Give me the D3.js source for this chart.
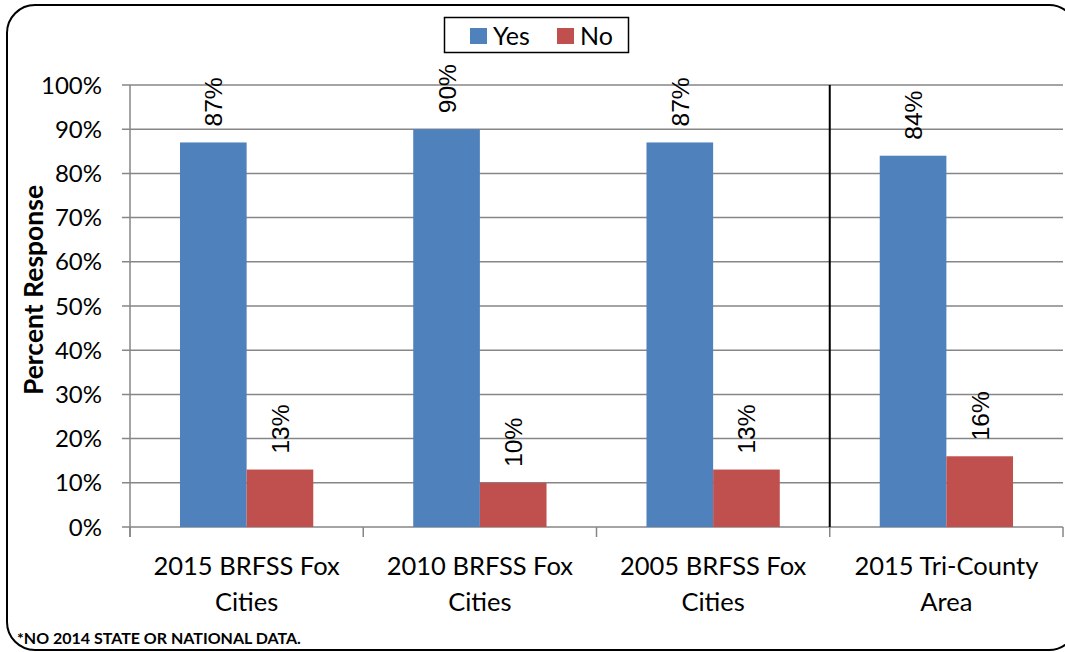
<!DOCTYPE html>
<html><head><meta charset="utf-8">
<script src="https://cdn.jsdelivr.net/npm/d3@7"></script>
<style>body{margin:0;background:#fff}svg{display:block}</style>
</head><body>
<script>
const categories = [["2015 BRFSS Fox","Cities"],["2010 BRFSS Fox","Cities"],["2005 BRFSS Fox","Cities"],["2015 Tri-County","Area"]];
const seriesNames = ["Yes","No"];
const yesValues = [87, 90, 87, 84];
const noValues = [13, 10, 13, 16];
const yTicks = [0,10,20,30,40,50,60,70,80,90,100];
const colors = ["#4F81BD","#C0504D"];

const W=1065,H=652;
const svg=d3.select("body").append("svg").attr("width",W).attr("height",H);
const font="Lato, 'Open Sans', sans-serif";

svg.append("rect").attr("x",7).attr("y",5).attr("width",1070).attr("height",645)
  .attr("rx",28).attr("fill","#fff").attr("stroke","#000").attr("stroke-width",2);

const L=130,R=1063,T=85,B=527;
const x=d3.scaleBand().domain(d3.range(categories.length)).range([L,R]).paddingInner(0).paddingOuter(0);
const y=d3.scaleLinear().domain([0,100]).range([B,T]);
const bw=x.bandwidth()/3.5;

// gridlines
svg.append("g").selectAll("line").data(yTicks).join("line")
  .attr("x1",L-8).attr("x2",R).attr("y1",d=>y(d)).attr("y2",d=>y(d))
  .attr("stroke","#868686").attr("stroke-width",1.5);
// y axis line
svg.append("line").attr("x1",L).attr("x2",L).attr("y1",T).attr("y2",B+10).attr("stroke","#868686").attr("stroke-width",1.5);
// x ticks
svg.append("g").selectAll("line").data(d3.range(categories.length+1)).join("line")
  .attr("x1",d=>L+d*x.bandwidth()).attr("x2",d=>L+d*x.bandwidth()).attr("y1",B).attr("y2",B+10)
  .attr("stroke","#868686").attr("stroke-width",1.5);

// y labels
svg.append("g").selectAll("text").data(yTicks).join("text")
  .attr("x",L-28).attr("y",d=>y(d)).attr("dy","0.36em").attr("text-anchor","end")
  .attr("font-family",font).attr("font-size",24).attr("fill","#000").text(d=>d+"%");

// bars
const data=[yesValues,noValues];
data.forEach((vals,si)=>{
  const g=svg.append("g");
  g.selectAll("rect").data(vals).join("rect")
    .attr("x",(d,i)=>x(i)+x.bandwidth()/2-bw+si*bw).attr("width",bw)
    .attr("y",d=>y(d)).attr("height",d=>B-y(d)).attr("fill",colors[si]);
  g.selectAll("text").data(vals).join("text")
    .attr("transform",(d,i)=>`translate(${x(i)+x.bandwidth()/2-bw/2+si*bw+9},${y(d)-16}) rotate(-90)`)
    .attr("font-family","'Liberation Sans', Arial, sans-serif").attr("font-size",24.5).attr("fill","#000")
    .text(d=>d+"%");
});

// separator
svg.append("line").attr("x1",x(3)).attr("x2",x(3)).attr("y1",T).attr("y2",B).attr("stroke","#000").attr("stroke-width",2);

// x labels
const xl=svg.append("g").selectAll("text").data(categories).join("text")
  .attr("text-anchor","middle").attr("font-family",font).attr("font-size",25.5).attr("fill","#000");
xl.each(function(d,i){
  const t=d3.select(this);
  d.forEach((line,j)=>t.append("tspan").attr("x",x(i)+x.bandwidth()/2).attr("y",575+j*36).text(line));
});

// y title
svg.append("text").attr("transform",`translate(43,290) rotate(-90)`).attr("text-anchor","middle")
  .attr("font-family",font).attr("font-weight","bold").attr("font-size",26.5).text("Percent Response");

// legend
const lg=svg.append("g");
lg.append("rect").attr("x",444.5).attr("y",17.5).attr("width",184).attr("height",35).attr("fill","#fff").attr("stroke","#000").attr("stroke-width",1.5);
const lx=[470,557];
seriesNames.forEach((s,i)=>{
  lg.append("rect").attr("x",lx[i]).attr("y",28).attr("width",17).attr("height",16).attr("fill",colors[i]);
  lg.append("text").attr("x",lx[i]+23).attr("y",36).attr("dy","0.36em").attr("font-family",font).attr("font-size",25).text(s);
});

// footnote
svg.append("text").attr("x",17).attr("y",644).attr("font-family",font).attr("font-weight","bold").attr("font-size",16).text("*NO 2014 STATE OR NATIONAL DATA.");
</script>
</body></html>
